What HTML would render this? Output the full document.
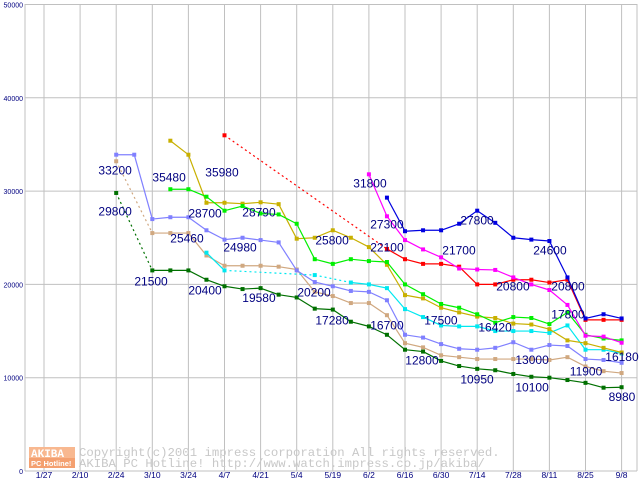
<!DOCTYPE html>
<html><head><meta charset="utf-8"><style>
html,body{margin:0;padding:0;background:#fff;}
svg{display:block;font-family:"Liberation Sans",sans-serif;}
</style></head><body>
<svg id="chart" width="640" height="480" xmlns="http://www.w3.org/2000/svg">
<g id="grid"></g>
<g id="wm">
  <rect x="29" y="447" width="46" height="11" fill="#f8b890"/>
  <text x="31" y="457" font-size="11" font-family="Liberation Mono,monospace" fill="#fff" font-weight="bold">AKIBA</text>
  <rect x="29" y="458" width="46" height="10" fill="#f4a070"/>
  <text x="31" y="466" font-size="7.5" fill="#fff" font-weight="bold">PC Hotline!</text>
  <text x="79" y="456" font-size="12.3" font-family="Liberation Mono,monospace" fill="#c8c8c8">Copyright(c)2001 impress corporation All rights reserved.</text>
  <text x="79" y="467" font-size="12.3" font-family="Liberation Mono,monospace" fill="#c8c8c8">AKIBA PC Hotline!  http://www.watch.impress.co.jp/akiba/</text>
</g>
<g id="series"></g>
<g id="labels"></g>
</svg>
<script>
const xLabels = ["1/27","2/10","2/24","3/10","3/24","4/7","4/21","5/4","5/19","6/2","6/16","6/30","7/14","7/28","8/11","8/25","9/8"];
const yTicks = [0,10000,20000,30000,40000,50000];
const N = null;
const sDarkGreen = [N,N,N,N,29800,N,21500,21500,21500,20500,19800,19500,19600,18900,18600,17400,17300,16000,15500,14600,13000,12800,11800,11250,10950,10800,10400,10100,10000,9750,9450,8930,8980];
const sTan = [N,N,N,N,33200,N,25500,25500,25500,23100,22000,22000,22000,21900,21600,19200,18750,18000,18000,16700,13700,13250,12400,12200,12000,12000,12000,12000,11900,12200,11200,10700,10500];
const sPeri = [N,N,N,N,33900,33900,27000,27200,27200,25800,24800,25000,24750,24500,21500,20250,19800,19300,19200,18300,14600,14300,13600,13100,13000,13200,13800,13000,13500,13400,12000,11900,11600];
const sCyan = [N,N,N,N,N,N,N,N,N,23400,21500,N,N,N,N,21000,N,20200,20000,19600,17350,16500,15600,15500,15500,15000,15000,15000,14800,15600,13000,13000,12600];
const sOlive = [N,N,N,N,N,N,N,35400,33900,28750,28750,28650,28800,28600,24900,25000,25800,25000,24000,22100,18850,18500,17500,17000,16550,16400,15800,15700,15200,14000,13700,13200,12700];
const sGreen = [N,N,N,N,N,N,N,30200,30200,29400,27900,28400,27600,27500,26500,22700,22200,22700,22500,22400,20000,18950,17900,17500,16800,15900,16500,16400,15750,17000,14600,14200,14000];
const sRed = [N,N,N,N,N,N,N,N,N,N,35980,N,N,N,N,N,N,N,N,23800,22700,22200,22200,21900,20000,20000,20500,20500,20200,20500,16200,16200,16200];
const sMagenta = [N,N,N,N,N,N,N,N,N,N,N,N,N,N,N,N,N,N,31800,27300,24750,23750,22900,21700,21600,21550,20750,20000,19400,17800,14500,14400,13750];
const sBlue = [N,N,N,N,N,N,N,N,N,N,N,N,N,N,N,N,N,N,N,29300,25700,25800,25800,26500,27900,26600,25000,24800,24650,20750,16350,16800,16350];
const seriesList = [
 ["series-dark-green", sDarkGreen, "#007000"],
 ["series-tan", sTan, "#d0a880"],
 ["series-periwinkle", sPeri, "#8080ff"],
 ["series-cyan", sCyan, "#00e8f0"],
 ["series-olive", sOlive, "#c8b000"],
 ["series-green", sGreen, "#00f000"],
 ["series-red", sRed, "#ff0000"],
 ["series-magenta", sMagenta, "#ff00ff"],
 ["series-blue", sBlue, "#0000e0"]
];
const labelText = ["33200","29800","21500","35480","25460","28700","20400","35980","24980","28790","19580","25800","20200","17280","31800","27300","22100","16700","21700","17500","12800","27800","16420","10950","20800","13000","10100","24600","20800","17800","11900","16180","8980"];
const labelIdx = [3.94,3.94,5.93,6.93,7.92,8.92,8.92,9.86,10.86,11.91,11.91,15.96,14.96,15.96,18.06,19.0,19.0,19.0,22.99,21.99,20.94,23.99,24.99,23.99,25.98,27.04,27.04,28.03,29.03,29.03,30.03,32.02,32.02];
const labelVal = [32270,27870,20370,31520,24970,27650,19400,32050,23990,27760,18620,24760,19190,16190,30860,26480,24010,15650,23690,16190,11900,26900,15430,9860,19830,11970,8980,23690,19830,16830,10720,12270,8000];
const X = i => 44 + i*18.05;
const Y = v => 471 - v*0.00933;
const NS="http://www.w3.org/2000/svg";
function mk(tag, attrs, parent){const e=document.createElementNS(NS,tag);for(const k in attrs)e.setAttribute(k,attrs[k]);parent.appendChild(e);return e;}
const grid=document.getElementById('grid');
for(let k=0;k<xLabels.length;k++){
  const l=mk('line',{x1:X(2*k),x2:X(2*k),y1:4,y2:471,stroke:'#c0c0c0','stroke-width':1},grid);
  
  
  const t=mk('text',{x:X(2*k),y:478,'font-size':8.5,fill:'#000080','text-anchor':'middle'},grid);
  t.textContent=xLabels[k];
  
  
}
for(const v of yTicks){
  const l=mk('line',{x1:25,x2:637,y1:Y(v),y2:Y(v),stroke:'#c0c0c0','stroke-width':1},grid);
  
  
  const t=mk('text',{x:23,y:Y(v)+3,'font-size':7,fill:'#000080','text-anchor':'end'},grid);
  t.textContent=String(v);
  
  
}
mk('line',{x1:25,x2:25,y1:4,y2:471,stroke:'#c0c0c0'},grid);
mk('line',{x1:637,x2:637,y1:4,y2:471,stroke:'#c0c0c0'},grid);
const sg=document.getElementById('series');
for(const [name,data,col] of seriesList){
  const g=mk('g',{},sg);
  
  
  let prev=-1;
  for(let i=0;i<data.length;i++){
    if(data[i]===null)continue;
    if(prev>=0){
      const a={x1:X(prev),y1:Y(data[prev]),x2:X(i),y2:Y(data[i]),stroke:col,'stroke-width':1.2};
      if(i-prev>1)a['stroke-dasharray']='2,3';
      const ln=mk('line',a,g);
      
      
    }
    const p=mk('rect',{x:X(i)-2,y:Y(data[i])-2,width:4,height:4,fill:col},g);
    
    
    prev=i;
  }
}
const lg=document.getElementById('labels');
for(let k=0;k<labelText.length;k++){
  const t=mk('text',{x:X(labelIdx[k]),y:Y(labelVal[k])+4.5,'font-size':12,fill:'#000080','text-anchor':'middle'},lg);
  t.textContent=labelText[k];
  
  
}
</script>
</body></html>
